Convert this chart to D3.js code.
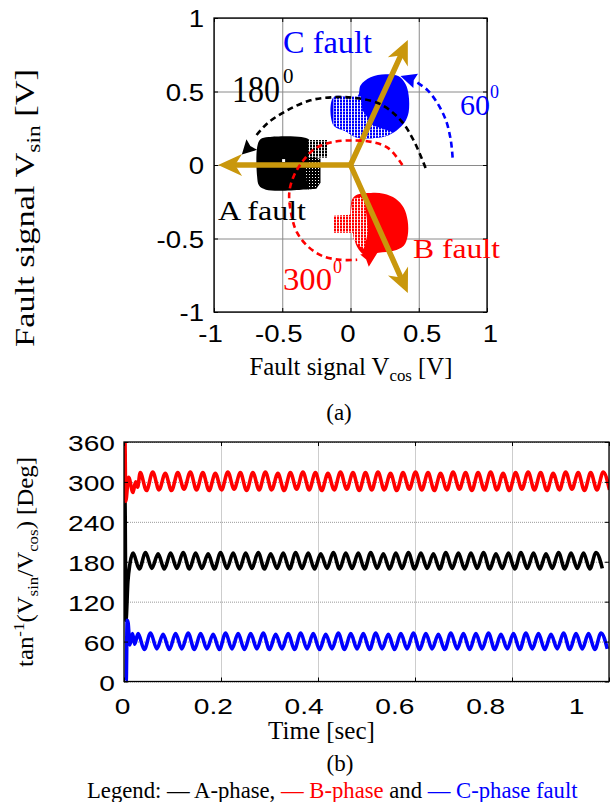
<!DOCTYPE html>
<html><head><meta charset="utf-8">
<script src="https://cdn.jsdelivr.net/npm/d3@7"></script>
<style>body{margin:0;background:#fff} text{white-space:pre}</style>
</head><body><svg id="c" width="613" height="802"></svg>
<script>
// ---------------- DATA ----------------
const phaseTicks = [-1, -0.5, 0, 0.5, 1];
const angleTicks = [0, 60, 120, 180, 240, 300, 360];
const timeTicks = [0, 0.2, 0.4, 0.6, 0.8, 1];

// Fault-signal clusters (Vcos, Vsin) outlines
const blobA = [[-0.684,0.12],[-0.66,0.175],[-0.6,0.19],[-0.36,0.19],[-0.3,0.17],[-0.26,0.1],[-0.24,-0.1],[-0.27,-0.155],[-0.36,-0.168],[-0.62,-0.168],[-0.67,-0.14],[-0.684,-0.08]];
const hatchA = [[-0.31,0.05],[-0.22,0.045],[-0.22,-0.12],[-0.25,-0.162],[-0.31,-0.166],[-0.33,-0.05]];
const tailA = [[-0.31,0.17],[-0.17,0.17],[-0.17,0.05],[-0.31,0.05]];
const holesA = [[-0.49,0.03]];
const blobC = [[-0.125,0.461],[0.051,0.468],[0.074,0.543],[0.147,0.597],[0.257,0.618],[0.353,0.604],[0.404,0.549],[0.426,0.474],[0.426,0.358],[0.397,0.29],[0.338,0.235],[0.257,0.195],[0.147,0.181],[0.037,0.188],[-0.037,0.229],[-0.125,0.27]];
const hatchC = [[-0.125,0.468],[0.074,0.468],[0.088,0.372],[0.162,0.27],[0.309,0.222],[0.257,0.195],[0.147,0.181],[0.037,0.188],[-0.037,0.229],[-0.125,0.27]];
const blobB = [[0.015,-0.229],[0.051,-0.201],[0.15,-0.19],[0.243,-0.195],[0.331,-0.229],[0.39,-0.29],[0.419,-0.379],[0.419,-0.481],[0.39,-0.549],[0.316,-0.584],[0.206,-0.597],[0.1,-0.61],[0.05,-0.56],[0.022,-0.48],[0.0,-0.33]];
const hatchB = [[-0.125,-0.345],[0,-0.338],[0.015,-0.229],[0.1,-0.215],[0.13,-0.447],[0.1,-0.57],[0.059,-0.549],[0.022,-0.502],[0.022,-0.461],[-0.125,-0.461]];

// Phasor arrows (tips)
const phasorTips = [[-0.97,0],[0.42,0.85],[0.42,-0.87]];
// Dashed rotation arcs and their heads [from, tip]
const arcA = [[0.55,-0.02],[0.463,0.167],[0.368,0.304],[0.221,0.413],[0.051,0.454],[-0.125,0.461],[-0.294,0.44],[-0.463,0.372],[-0.61,0.283],[-0.70,0.19]];
const headA = [[-0.712,0.15],[-0.796,0.072]];
const arcC = [[0.748,0.05],[0.735,0.167],[0.699,0.304],[0.637,0.42],[0.564,0.509],[0.49,0.56]];
const headC = [[0.485,0.57],[0.366,0.606]];
const arcB = [[0.38,0.0],[0.279,0.113],[0.16,0.156],[0.013,0.167],[-0.135,0.156],[-0.257,0.113],[-0.346,0.031],[-0.419,-0.083],[-0.449,-0.195],[-0.429,-0.356],[-0.392,-0.459],[-0.318,-0.549],[-0.208,-0.618],[-0.074,-0.645],[0.049,-0.645]];
const headB = [[0.095,-0.656],[0.205,-0.585]];

// Angle time series: start-up transient + successive extrema
const halfPeriod = 0.0129;
const transA_t = [0.0005, 0.002, 0.004, 0.008, 0.012];
const transA_v = [270, 270, 92, 150, 176];
const startA = 0.0187;
const extA = [193,169,194,170,192,169,193,170,194,169,
              193,170,192,169,194,170,193,169,193,170,
              194,169,192,170,193,169,194,170,193,169,
              192,170,194,169,193,170,193,169,194,170,
              192,169,193,170,194,169,193,170,192,169,
              194,170,193,169,193,170,194,169,192,170,
              193,169,194,170,193,169,192,170,194,169,
              193,170,193,169,194,170];
const transB_t = [0, 0.002, 0.0035, 0.0095, 0.0185, 0.024, 0.028];
const transB_v = [360, 360, 271, 307, 284, 300, 292];
const startB = 0.0335;
const extB = [314,287,315,288,313,287,314,289,315,288,
              314,287,313,288,315,289,314,287,314,288,
              315,288,313,287,314,289,315,288,314,287,
              313,288,315,289,314,287,314,288,315,288,
              313,287,314,289,315,288,314,287,313,288,
              315,289,314,287,314,288,315,288,313,287,
              314,289,315,288,314,287,313,288,315,289,
              314,287,314,288,315,288];
const transC_t = [0.003, 0.0045, 0.0065, 0.0085, 0.012, 0.0175, 0.022];
const transC_v = [0, 0, 92, 88, 55, 72, 56];
const startC = 0.029;
const extC = [72,48,73,49,71,48,72,49,73,48,
              72,49,71,48,73,49,72,48,72,49,
              73,48,71,49,72,48,73,49,72,48,
              71,49,73,48,72,49,72,48,73,49,
              71,48,72,49,73,48,72,49,71,48,
              73,49,72,48,72,49,73,48,71,49,
              72,48,73,49,72,48,71,49,73,48,
              72,49,72,48,73,49];

// ---------------- DRAW ----------------
const SERIF = "'Liberation Serif','Times New Roman',serif";
const SANS = "'Liberation Sans',Arial,sans-serif";
const GOLD = '#C9970C';
const svg = d3.select('#c');
svg.append('rect').attr('width',613).attr('height',802).attr('fill','#fff');
const defs = svg.append('defs');
// dense marker-mesh textures
function meshDots(id,color){
  const p = defs.append('pattern').attr('id',id).attr('patternUnits','userSpaceOnUse').attr('width',3).attr('height',3);
  p.append('rect').attr('width',3).attr('height',3).attr('fill',color);
  p.append('rect').attr('width',1).attr('height',1).attr('fill','#fff');
}
function meshLines(id,color){
  const p = defs.append('pattern').attr('id',id).attr('patternUnits','userSpaceOnUse').attr('width',3).attr('height',3);
  p.append('rect').attr('width',3).attr('height',3).attr('fill',color);
  p.append('rect').attr('width',1).attr('height',3).attr('fill','#fff');
  p.append('rect').attr('x',1).attr('width',2).attr('height',1).attr('fill','#fff').attr('opacity',0.5);
}
meshDots('hA','#000'); meshLines('tA','#000'); meshLines('hB','#f00'); meshLines('hC','#00f');

function rich(parent, parts, size, x, y, opts={}){
  const t = parent.append('text').attr('font-family',opts.family||SERIF).attr('font-size',size)
    .attr('text-anchor',opts.anchor||'start');
  let shift = 0;
  parts.forEach(p=>{
    const ts = t.append('tspan').text(p.t).attr('fill',p.fill||opts.fill||'#000');
    let target = 0;
    if(p.sub){ ts.attr('font-size',size*0.68); target = size*0.22; }
    if(p.sup){ ts.attr('font-size',size*0.68); target = -size*0.38; }
    if(target!==shift){ ts.attr('dy', target-shift); shift = target; }
  });
  const w0 = t.node().getComputedTextLength();
  const k = opts.width ? opts.width/w0 : 1;
  t.attr('transform', `translate(${x},${y})` + (opts.rotate?` rotate(${opts.rotate})`:'') + ` scale(${k},1)`);
  return t;
}

// ===== Panel (a) =====
const xA = d3.scaleLinear([-1,1],[214,487]);
const yA = d3.scaleLinear([-1,1],[312,18]);
svg.append('clipPath').attr('id','clipA').append('rect').attr('x',214).attr('y',18).attr('width',273).attr('height',294);
const gA = svg.append('g');
const gridXA = gA.append('g').attr('transform',`translate(0,${yA(-1)})`)
  .call(d3.axisBottom(xA).tickValues(phaseTicks).tickSize(-(yA(-1)-yA(1))).tickFormat(''));
const gridYA = gA.append('g').attr('transform',`translate(${xA(-1)},0)`)
  .call(d3.axisLeft(yA).tickValues(phaseTicks).tickSize(-(xA(1)-xA(-1))).tickFormat(''));
[gridXA,gridYA].forEach(g=>{g.select('.domain').remove(); g.selectAll('line').attr('stroke','#8a8a8a').attr('stroke-width',1);});

const plotA = gA.append('g').attr('clip-path','url(#clipA)');
const pt = d => [xA(d[0]), yA(d[1])];
const closedSmooth = d3.line().x(d=>xA(d[0])).y(d=>yA(d[1])).curve(d3.curveCatmullRomClosed.alpha(0.5));
const closedLin = d3.line().x(d=>xA(d[0])).y(d=>yA(d[1])).curve(d3.curveLinearClosed);
[[blobA,'#000',hatchA,'hA'],[blobC,'#00f',hatchC,'hC'],[blobB,'#f00',hatchB,'hB']].forEach(([b,c,h,id])=>{
  plotA.append('path').attr('d',closedSmooth(b)).attr('fill',c);
  plotA.append('path').attr('d',closedLin(h)).attr('fill',`url(#${id})`);
});
plotA.append('path').attr('d',closedLin(tailA)).attr('fill','url(#tA)');
holesA.forEach(d=>plotA.append('rect').attr('x',xA(d[0])-1.5).attr('y',yA(d[1])-1.5).attr('width',3).attr('height',3).attr('fill','#fff'));

function headPath(from, tip, len, hw, notch){
  const dx=tip[0]-from[0], dy=tip[1]-from[1], L=Math.hypot(dx,dy), ux=dx/L, uy=dy/L, px=-uy, py=ux;
  const bx=tip[0]-ux*len, by=tip[1]-uy*len, nx=tip[0]-ux*(len-notch), ny=tip[1]-uy*(len-notch);
  return `M${tip[0]},${tip[1]}L${bx+px*hw},${by+py*hw}L${nx},${ny}L${bx-px*hw},${by-py*hw}Z`;
}
const o = pt([0,0]);
phasorTips.forEach(d=>{
  const tip = pt(d); const dx=tip[0]-o[0], dy=tip[1]-o[1], L=Math.hypot(dx,dy);
  const end = [tip[0]-dx/L*16, tip[1]-dy/L*16];
  plotA.append('line').attr('x1',o[0]).attr('y1',o[1]).attr('x2',end[0]).attr('y2',end[1])
    .attr('stroke',GOLD).attr('stroke-width',5.5).attr('stroke-linecap','round');
  plotA.append('path').attr('d',headPath(o,tip,24,11,7)).attr('fill',GOLD);
});
const arcLine = d3.line().x(d=>xA(d[0])).y(d=>yA(d[1])).curve(d3.curveCatmullRom.alpha(0.5));
[[arcA,headA,'#000',14],[arcC,headC,'#00f',16],[arcB,headB,'#f00',17]].forEach(([a,h,c,len])=>{
  plotA.append('path').attr('d',arcLine(a)).attr('fill','none').attr('stroke',c).attr('stroke-width',2.6).attr('stroke-dasharray','6,4');
  plotA.append('path').attr('d',headPath(pt(h[0]),pt(h[1]),len,7.5,2)).attr('fill',c);
});
const tkA = [
  [d3.axisBottom(xA),`translate(0,${yA(1)})`],[d3.axisTop(xA),`translate(0,${yA(-1)})`],
  [d3.axisRight(yA),`translate(${xA(-1)},0)`],[d3.axisLeft(yA),`translate(${xA(1)},0)`]];
tkA.forEach(([ax,tr])=>{
  const g = gA.append('g').attr('transform',tr).call(ax.tickValues(phaseTicks).tickSize(4).tickFormat(''));
  g.select('.domain').remove(); g.selectAll('line').attr('stroke','#000');
});
gA.append('rect').attr('x',xA(-1)).attr('y',yA(1)).attr('width',xA(1)-xA(-1)).attr('height',yA(-1)-yA(1))
  .attr('fill','none').attr('stroke','#000').attr('stroke-width',1.3);
const lxA = gA.append('g').attr('transform',`translate(0,${yA(-1)})`).call(d3.axisBottom(xA).tickValues(phaseTicks).tickSize(0).tickFormat(d=>String(d)));
lxA.select('.domain').remove();
lxA.selectAll('text').attr('y',null).attr('dy',null).attr('font-family',SANS).attr('font-size',23).attr('fill','#000')
  .attr('transform',d=>`translate(${d<0?-4:d>0?3:-3},30) scale(1.2,1)`);
const lyA = gA.append('g').attr('transform',`translate(${xA(-1)},0)`).call(d3.axisLeft(yA).tickValues(phaseTicks).tickSize(0).tickFormat(d=>String(d)));
lyA.select('.domain').remove();
lyA.selectAll('text').attr('x',null).attr('dy',null).attr('font-family',SANS).attr('font-size',23).attr('fill','#000')
  .attr('transform','translate(-10,8.5) scale(1.2,1)');
rich(svg,[{t:'Fault signal V'},{t:'cos',sub:true},{t:' [V]'}],25,351,375,{anchor:'middle',width:203});
rich(svg,[{t:'(a)'}],23,339,420,{anchor:'middle'});
rich(svg,[{t:'Fault signal V'},{t:'sin',sub:true},{t:' [V]'}],28,34,208,{anchor:'middle',width:278,rotate:-90});
rich(svg,[{t:'C fault'}],31,283,53,{fill:'#00f',width:89});
rich(svg,[{t:'A fault'}],27,218,220,{fill:'#000',width:88});
rich(svg,[{t:'B fault'}],27,413,258,{fill:'#f00',width:87});
rich(svg,[{t:'180'}],37,232,102,{fill:'#000',width:48});
rich(svg,[{t:'0'}],21,283,83,{fill:'#000'});
rich(svg,[{t:'60'}],29,460,115,{fill:'#00f',width:30});
rich(svg,[{t:'0'}],18,490,98,{fill:'#00f'});
rich(svg,[{t:'300'}],32,283,290,{fill:'#f00',width:49});
rich(svg,[{t:'0'}],18,333,273,{fill:'#f00'});

// ===== Panel (b) =====
const xB = d3.scaleLinear([0,1],[124,609]);
const xBL = d3.scaleLinear([0,1],[122,576]); // tick-label placement as in the picture
const yB = d3.scaleLinear([0,360],[681.5,442]);
svg.append('clipPath').attr('id','clipB').append('rect').attr('x',124).attr('y',442).attr('width',485).attr('height',239.5);
const gB = svg.append('g');
const gridXB = gB.append('g').attr('transform',`translate(0,${yB(0)})`)
  .call(d3.axisBottom(xB).tickValues(timeTicks).tickSize(-(yB(0)-yB(360))).tickFormat(''));
const gridYB = gB.append('g').attr('transform',`translate(${xB(0)},0)`)
  .call(d3.axisLeft(yB).tickValues(angleTicks).tickSize(-(xB(1)-xB(0))).tickFormat(''));
[gridXB,gridYB].forEach(g=>{g.select('.domain').remove(); g.selectAll('line').attr('stroke','#9a9a9a').attr('stroke-width',1).attr('stroke-dasharray','1,1');});

function build(tt, tv, start, ext){
  const pts = tt.map((t,i)=>[t,tv[i]]);
  ext.forEach((v,i)=>pts.push([start+i*halfPeriod, v]));
  return pts;
}
const series = [
  {pts: build(transA_t,transA_v,startA,extA), color:'#000'},
  {pts: build(transB_t,transB_v,startB,extB), color:'#f00'},
  {pts: build(transC_t,transC_v,startC,extC), color:'#00f'}];
const wave = d3.line().x(d=>xB(d[0])).y(d=>yB(d[1])).curve(d3.curveMonotoneX);
const plotB = gB.append('g').attr('clip-path','url(#clipB)');
series.forEach(s=>plotB.append('path').attr('d',wave(s.pts)).attr('fill','none').attr('stroke',s.color)
  .attr('stroke-width',3.6).attr('stroke-linejoin','round'));

const tkB = [
  [d3.axisBottom(xB).tickValues(timeTicks),`translate(0,${yB(360)})`],[d3.axisTop(xB).tickValues(timeTicks),`translate(0,${yB(0)})`],
  [d3.axisRight(yB).tickValues(angleTicks),`translate(${xB(0)},0)`],[d3.axisLeft(yB).tickValues(angleTicks),`translate(${xB(1)},0)`]];
tkB.forEach(([ax,tr])=>{
  const g = gB.append('g').attr('transform',tr).call(ax.tickSize(4).tickFormat(''));
  g.select('.domain').remove(); g.selectAll('line').attr('stroke','#000');
});
gB.append('rect').attr('x',xB(0)).attr('y',yB(360)).attr('width',xB(1)-xB(0)).attr('height',yB(0)-yB(360))
  .attr('fill','none').attr('stroke','#000').attr('stroke-width',1.3);
const lxB = gB.append('g').attr('transform',`translate(0,${yB(0)})`).call(d3.axisBottom(xBL).tickValues(timeTicks).tickSize(0).tickFormat(d=>String(d)));
lxB.select('.domain').remove();
lxB.selectAll('text').attr('y',null).attr('dy',null).attr('font-family',SANS).attr('font-size',22).attr('fill','#000')
  .attr('transform','translate(0,32) scale(1.28,1)');
const lyB = gB.append('g').attr('transform',`translate(${xB(0)},0)`).call(d3.axisLeft(yB).tickValues(angleTicks).tickSize(0).tickFormat(d=>String(d)));
lyB.select('.domain').remove();
lyB.selectAll('text').attr('x',null).attr('dy',null).attr('font-family',SANS).attr('font-size',22).attr('fill','#000')
  .attr('transform','translate(-9,8.5) scale(1.28,1)');

rich(svg,[{t:'tan'},{t:'-1',sup:true},{t:'(V'},{t:'sin',sub:true},{t:'/V'},{t:'cos',sub:true},{t:') [Deg]'}],23,33,562,{anchor:'middle',width:210,rotate:-90});
rich(svg,[{t:'Time [sec]'}],25,321.5,739,{anchor:'middle',width:107});
rich(svg,[{t:'(b)'}],23,340,771,{anchor:'middle'});
rich(svg,[{t:'Legend: \u2014 A-phase, '},{t:'\u2014 B-phase',fill:'#f00'},{t:' and '},{t:'\u2014 C-phase fault',fill:'#00f'}],23,87,798,{width:491});
</script></body></html>
